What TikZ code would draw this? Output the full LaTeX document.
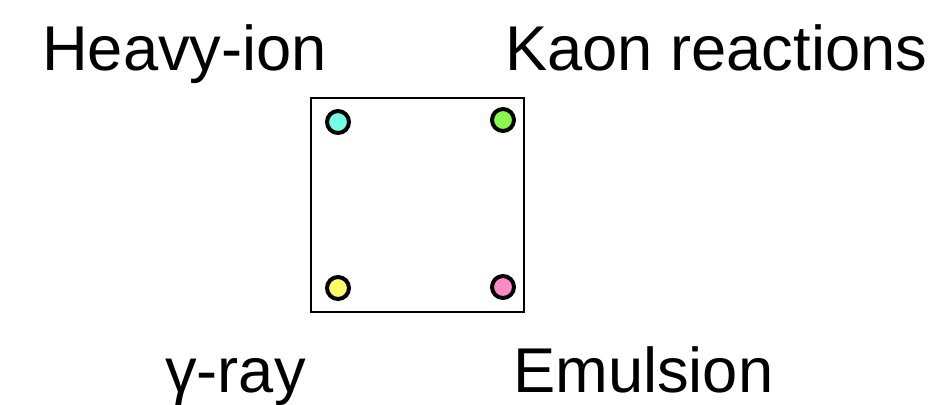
\documentclass[tikz,border=0pt]{standalone}
\usepackage{fontspec}
\setmainfont{Liberation Sans}
\usepackage{xcolor}
\usepackage{tikz}
\usetikzlibrary{positioning}
\definecolor{dotCyan}{HTML}{77FCE8}
\definecolor{dotGreen}{HTML}{88F84A}
\definecolor{dotYellow}{HTML}{FFFC66}
\definecolor{dotPink}{HTML}{FF8AC6}

\begin{document}
\begin{tikzpicture}[x=1bp,y=-1bp,
    framebox/.style={rectangle,draw=black,line width=2.2bp,
                     minimum width=213bp,minimum height=214bp,inner sep=0pt},
    dot/.style={circle,draw=black,line width=4bp,minimum size=22bp,inner sep=0pt},
    lbl/.style={anchor=base west,inner sep=0pt,font=\fontsize{63.5}{70}\selectfont}
  ]
  \useasboundingbox (0,0) rectangle (948,404);
  % frame
  \node[framebox] (box) at (417.5,205) {};
  % dots in the corners
  \node[dot,fill=dotCyan]   (heavy)  at (338,122) {};
  \node[dot,fill=dotGreen]  (kaon)   at (503,120) {};
  \node[dot,fill=dotYellow] (gamma)  at (338,288) {};
  \node[dot,fill=dotPink]   (emul)   at (503,287) {};
  % labels
  \node[lbl] (heavylbl) at (42,70)  {Heavy-ion};
  \node[lbl] (kaonlbl)  at (505,70) {Kaon reactions};
  \node[lbl] (gammalbl) at (165,392) {γ-ray};
  \node[lbl] (emullbl)  at (513,392) {Emulsion};
\end{tikzpicture}
\end{document}
